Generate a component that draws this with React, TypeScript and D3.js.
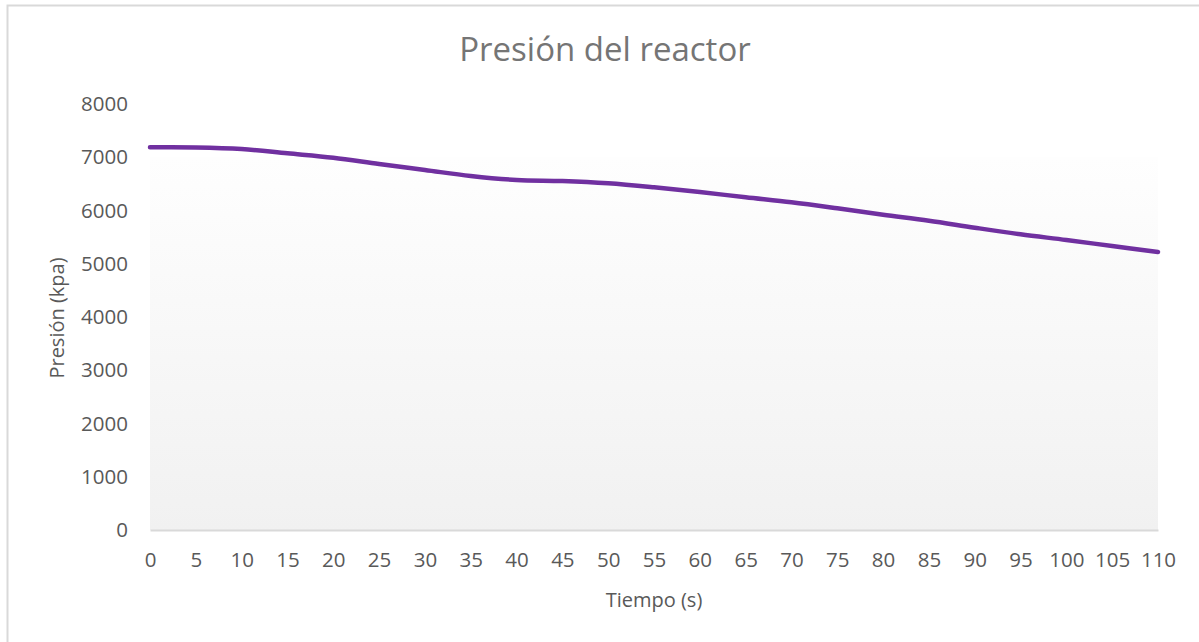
import React, { useEffect, useRef } from 'react';
import * as d3 from 'd3';

const times = [0, 5, 10, 15, 20, 25, 30, 35, 40, 45, 50, 55, 60, 65, 70, 75, 80, 85, 90, 95, 100, 105, 110];
const pressure = [7187, 7185, 7155, 7074, 6992, 6873, 6761, 6648, 6573, 6554, 6511, 6436, 6347, 6248, 6154, 6041, 5921, 5808, 5677, 5553, 5446, 5333, 5221];
const yTicks = [0, 1000, 2000, 3000, 4000, 5000, 6000, 7000, 8000];

const FONT = '"Open Sans", "Noto Sans", sans-serif';

function PressureChart() {
  const svgRef = useRef<SVGSVGElement>(null);

  useEffect(() => {
    const svg = d3.select(svgRef.current);
    svg.selectAll('*').remove();

    const width = 1199;
    const height = 642;
    const margin = { top: 104, right: 41, bottom: 112, left: 150 };

    const x = d3.scaleLinear()
      .domain([0, 110])
      .range([margin.left, width - margin.right]);

    const y = d3.scaleLinear()
      .domain([0, 8000])
      .range([height - margin.bottom, margin.top]);

    // chart frame
    svg.append('rect')
      .attr('x', 7.5).attr('y', 5.5)
      .attr('width', width + 20).attr('height', height + 20)
      .attr('fill', '#fff')
      .attr('stroke', '#d9d9d9')
      .attr('stroke-width', 2);

    const defs = svg.append('defs');
    const grad = defs.append('linearGradient')
      .attr('id', 'plotGrad')
      .attr('x1', 0).attr('y1', 0).attr('x2', 0).attr('y2', 1);
    grad.append('stop').attr('offset', '0%').attr('stop-color', '#fefefe');
    grad.append('stop').attr('offset', '100%').attr('stop-color', '#f1f1f1');

    svg.append('rect')
      .attr('x', x(0))
      .attr('y', y(7000))
      .attr('width', x(110) - x(0))
      .attr('height', y(0) - y(7000))
      .attr('fill', 'url(#plotGrad)');

    // title
    svg.append('text')
      .attr('x', 605).attr('y', 61)
      .attr('text-anchor', 'middle')
      .attr('font-family', FONT)
      .attr('font-size', 33)
      .attr('fill', '#757575')
      .text('Presión del reactor');

    // x axis
    const xAxis = svg.append('g')
      .attr('transform', `translate(0,${y(0)})`)
      .call(d3.axisBottom(x).tickValues(times).tickSize(0).tickPadding(22));
    xAxis.select('.domain').attr('stroke', '#d9d9d9').attr('stroke-width', 2);
    xAxis.selectAll('text')
      .attr('font-family', FONT)
      .attr('font-size', 20.5)
      .attr('fill', '#595959');

    // y axis
    const yAxis = svg.append('g')
      .attr('transform', `translate(${margin.left},0)`)
      .call(d3.axisLeft(y).tickValues(yTicks).tickSize(0).tickPadding(22).tickFormat(d3.format('d')));
    yAxis.select('.domain').remove();
    yAxis.selectAll('text')
      .attr('font-family', FONT)
      .attr('font-size', 20.5)
      .attr('fill', '#595959');

    // axis titles
    svg.append('text')
      .attr('x', 654).attr('y', 607)
      .attr('text-anchor', 'middle')
      .attr('font-family', FONT)
      .attr('font-size', 20)
      .attr('fill', '#595959')
      .text('Tiempo (s)');

    svg.append('text')
      .attr('transform', 'translate(64,318) rotate(-90)')
      .attr('text-anchor', 'middle')
      .attr('font-family', FONT)
      .attr('font-size', 20)
      .attr('fill', '#595959')
      .text('Presión (kpa)');

    // line
    const line = d3.line<number>()
      .x((d, i) => x(times[i]))
      .y((d) => y(d))
      .curve(d3.curveCatmullRom);

    svg.append('path')
      .datum(pressure)
      .attr('d', line)
      .attr('fill', 'none')
      .attr('stroke', '#7030a0')
      .attr('stroke-width', 4.5)
      .attr('stroke-linecap', 'round');
  }, []);

  return (
    <svg
      ref={svgRef}
      width={1199}
      height={642}
      style={{ position: 'absolute', left: 0, top: 0, display: 'block' }}
    />
  );
}

export default function App() {
  return <PressureChart />;
}
